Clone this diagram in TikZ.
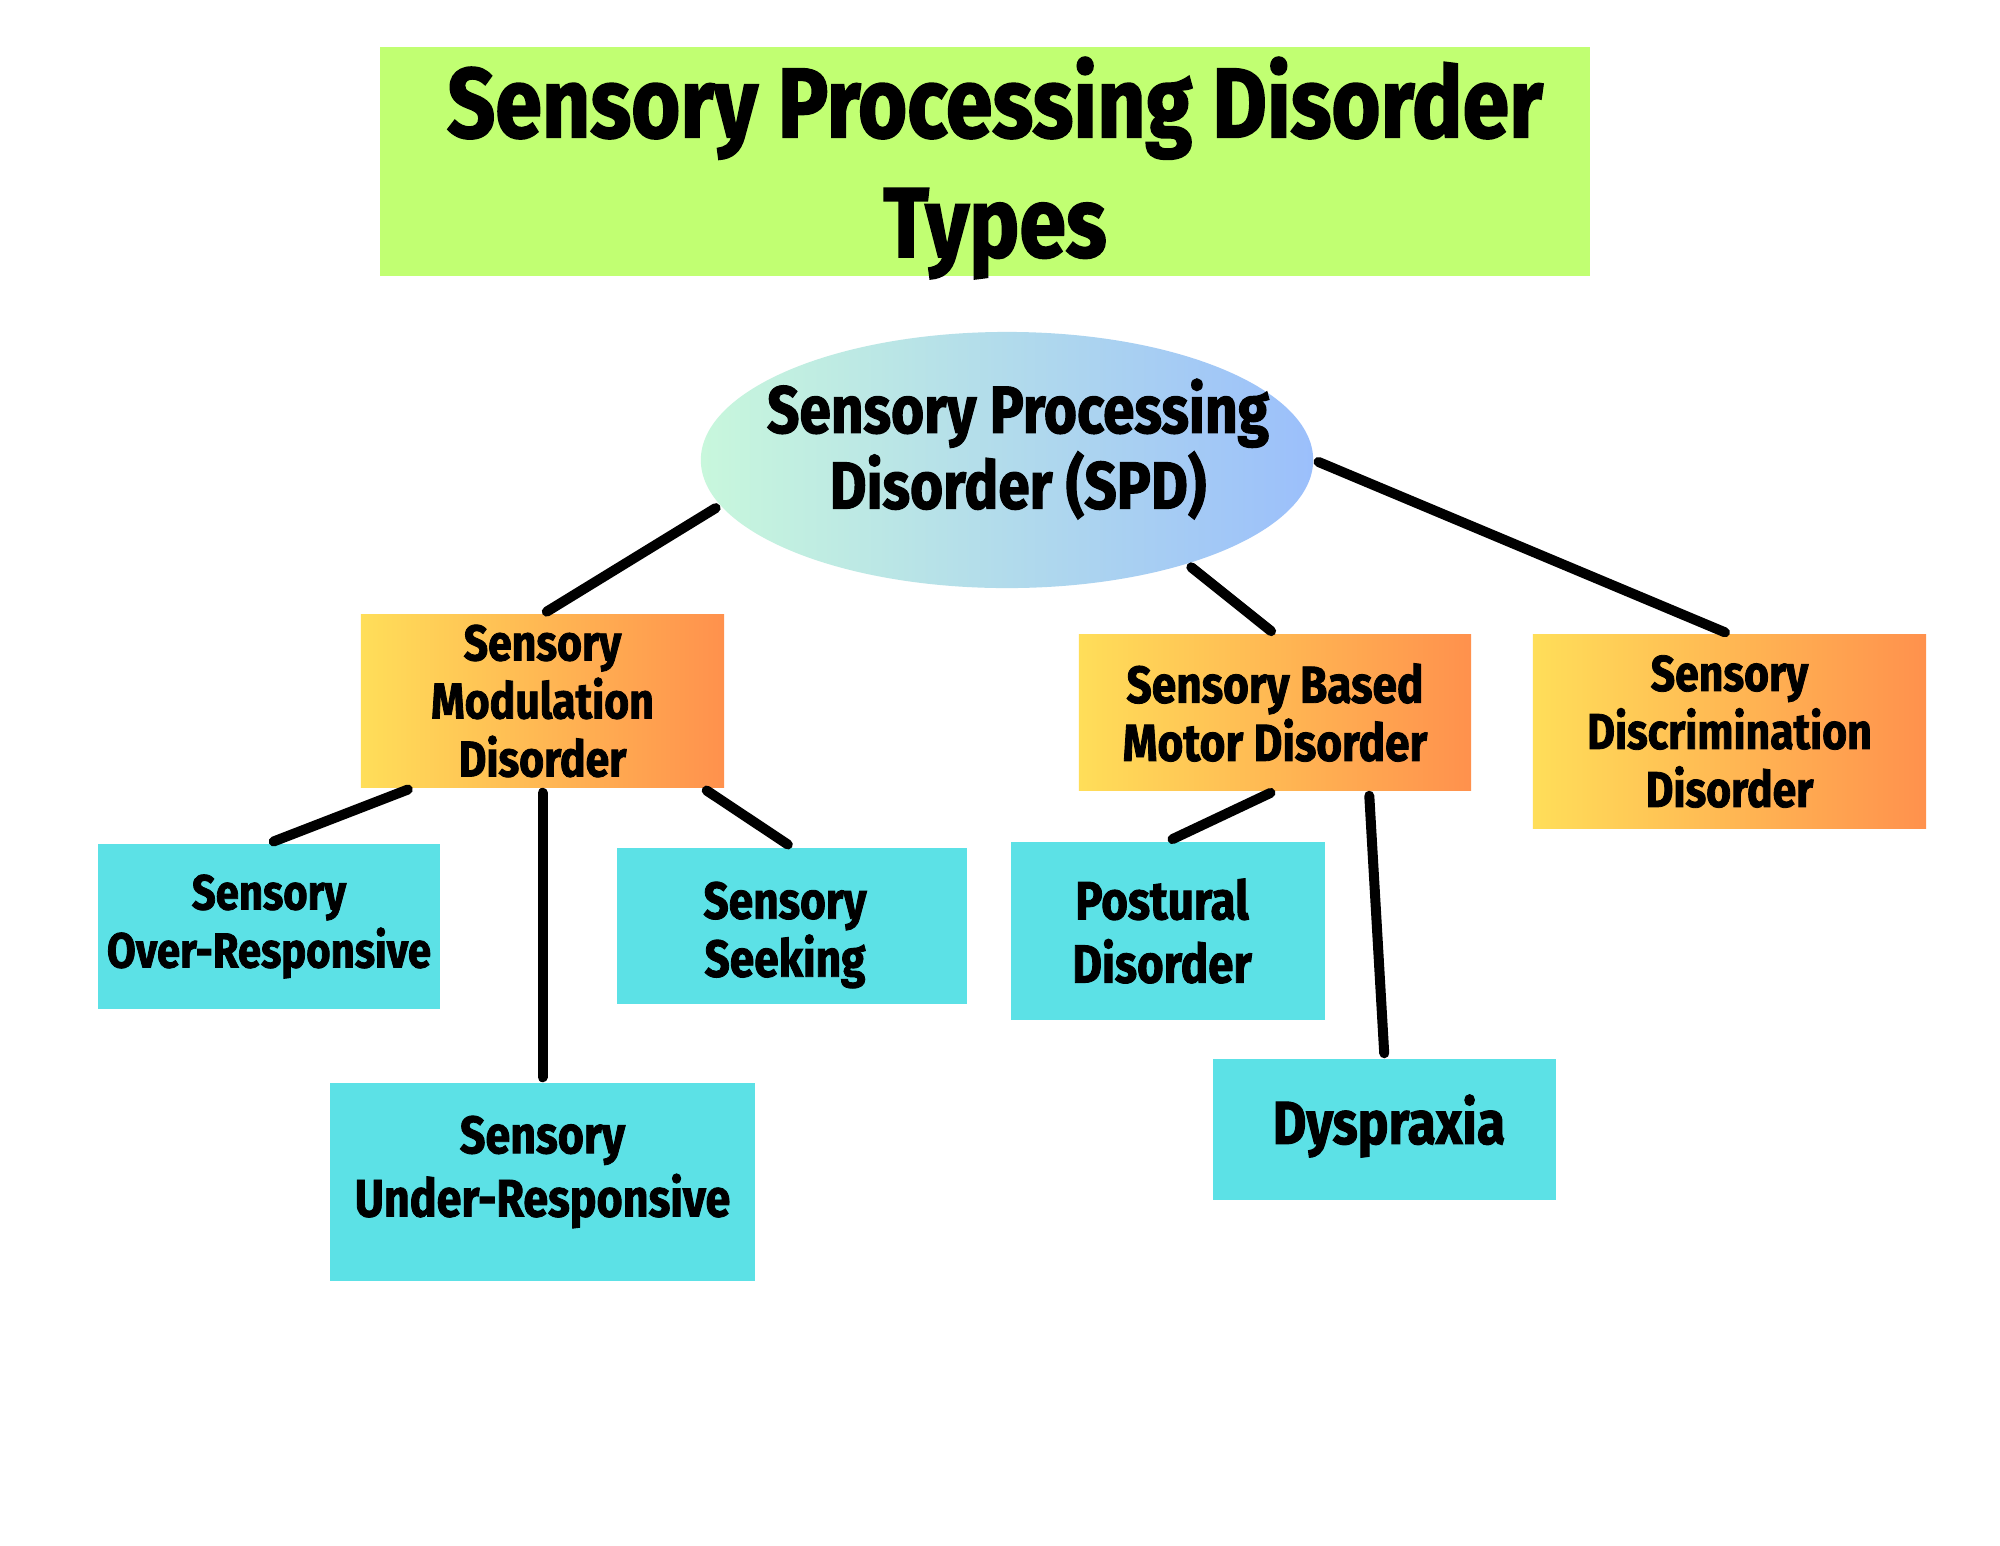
\documentclass[tikz,border=0pt]{standalone}
\usepackage{fontspec}
\setmainfont{Fira Sans}[FakeStretch=0.85, BoldFeatures={FakeBold=1.6}]
\usetikzlibrary{shapes.geometric,calc}
\definecolor{lime}{HTML}{C1FF72}
\definecolor{mint}{HTML}{C8F7DC}
\definecolor{skyb}{HTML}{9BBFFB}
\definecolor{sunY}{HTML}{FFDE59}
\definecolor{sunO}{HTML}{FF914D}
\definecolor{cyanbox}{HTML}{5CE1E6}
\tikzset{
  lbl/.style={font=\bfseries, align=center, inner sep=0pt},
  titlebox/.style={lbl, fill=lime},
  titletxt/.style={lbl, font=\bfseries\fontsize{28.2}{34}\selectfont},
  rootell/.style={lbl, ellipse, left color=mint, right color=skyb},
  roottxt/.style={lbl, font=\bfseries\fontsize{19}{20.5}\selectfont},
  midbox/.style={lbl, left color=sunY, right color=sunO, font=\bfseries\fontsize{14.3}{16.5}\selectfont},
  leafbox/.style={lbl, fill=cyanbox, font=\bfseries\fontsize{14}{16.5}\selectfont},
  conn/.style={line width=1mm, line cap=round, black, shorten <=0.05cm, shorten >=0.05cm}
}
\begin{document}
\begin{tikzpicture}[x=0.01cm, y=-0.01cm]
\useasboundingbox[fill=white] (0,0) rectangle (2000,1545);
% title
\node[titlebox, minimum width=12.10cm, minimum height=2.29cm] (title) at (985,161.5) {};
\node[titletxt] (titletext) at (995,168) {Sensory Processing Disorder\\Types};
% root
\node[rootell, minimum width=6.12cm, minimum height=2.56cm] (spd) at (1007,460) {};
\node[roottxt] (spdtext) at (1018,449) {Sensory Processing\\Disorder (SPD)};
% middle level
\node[midbox, minimum width=3.63cm, minimum height=1.72cm] (mod) at (542.5,701)
  {Sensory\\Modulation\\Disorder};
\node[midbox, minimum width=3.92cm, minimum height=1.55cm, font=\bfseries\fontsize{14.8}{16.5}\selectfont] (motor) at (1275,712.5)
  {Sensory Based\\Motor Disorder};
\node[midbox, minimum width=3.93cm, minimum height=1.93cm] (disc) at (1729.5,731.5)
  {Sensory\\Discrimination\\Disorder};
% leaves
\node[leafbox, minimum width=3.42cm, minimum height=1.65cm] (over) at (269,926.5)
  {Sensory\\Over-Responsive};
\node[leafbox, minimum width=4.25cm, minimum height=1.98cm] (under) at (542.5,1182) {};
\node[lbl, font=\bfseries\fontsize{15}{18}\selectfont] (undertext) at (542.5,1172)
  {Sensory\\Under-Responsive};
\node[leafbox, minimum width=3.50cm, minimum height=1.56cm] (seek) at (792,926) {};
\node[lbl, font=\bfseries\fontsize{14.8}{16.5}\selectfont] (seektext) at (785,935)
  {Sensory\\Seeking};
\node[leafbox, minimum width=3.14cm, minimum height=1.78cm] (post) at (1168,931) {};
\node[lbl, font=\bfseries\fontsize{15.3}{18}\selectfont] (posttext) at (1162,931)
  {Postural\\Disorder};
\node[leafbox, minimum width=3.43cm, minimum height=1.41cm] (dysp) at (1384.5,1129.5) {};
\node[lbl, font=\bfseries\fontsize{17.3}{18}\selectfont] (dysptext) at (1389,1126)
  {Dyspraxia};
% connectors
\draw[conn] (spd.189) -- (mod.north);
\draw[conn] (spd.330) -- (motor.north);
\draw[conn] (spd.east) -- (disc.north);
\draw[conn] ($(mod.south)+(-130,0)$) -- (over.north);
\draw[conn] (mod.south) -- (under.north);
\draw[conn] ($(mod.south)+(160,0)$) -- (seek.north);
\draw[conn] (motor.south) -- (post.north);
\draw[conn] ($(motor.south)+(94,0)$) -- (dysp.north);
\end{tikzpicture}
\end{document}
